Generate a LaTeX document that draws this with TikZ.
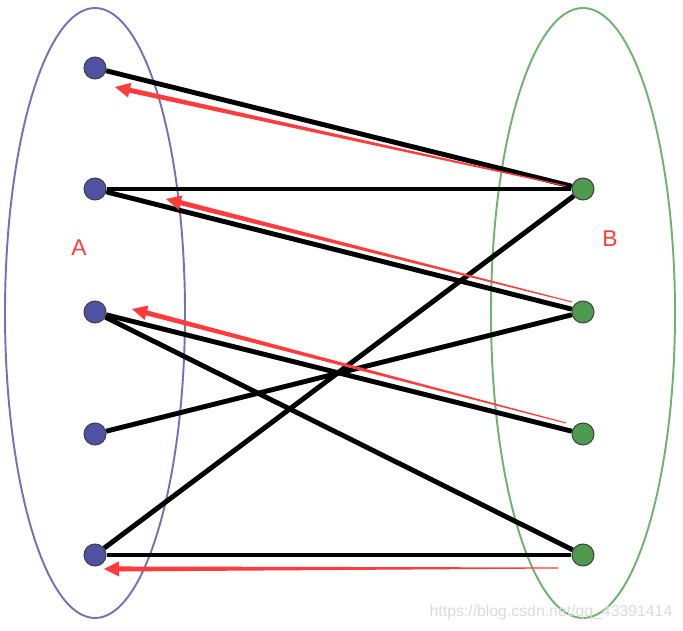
\documentclass[tikz,border=0pt]{standalone}
\usepackage{fontspec}
\setsansfont{Liberation Sans}
\usetikzlibrary{calc}

\definecolor{setAline}{HTML}{7272B9}
\definecolor{setAfill}{HTML}{4F52A3}
\definecolor{setBline}{HTML}{6DB36D}
\definecolor{setBfill}{HTML}{4E9A4E}
\definecolor{arrowred}{HTML}{FF3B3B}
\definecolor{wmgray}{HTML}{DADADA}

\tikzset{
  vertA/.style={circle,draw=black!75,line width=0.6pt,fill=setAfill,minimum size=0.44cm,inner sep=0pt},
  vertB/.style={circle,draw=black!75,line width=0.6pt,fill=setBfill,minimum size=0.44cm,inner sep=0pt},
  edge/.style={draw=black,line width=2.8pt},
  setlabel/.style={text=arrowred,font=\sffamily\fontsize{13pt}{15pt}\selectfont}
}

% tapered red arrow: #1 tail, #2 tip
\newcommand\taperarrow[2]{%
  \coordinate (bh) at ($(#2)!0.3cm!(#1)$);
  \fill[arrowred] ($(#1)!0.3pt!90:(#2)$) -- ($(bh)!0.05cm!-90:(#1)$)
    -- ($(bh)!0.15cm!-90:(#1)$) -- (#2) -- ($(bh)!0.15cm!90:(#1)$)
    -- ($(bh)!0.05cm!90:(#1)$) -- ($(#1)!0.3pt!-90:(#2)$) -- cycle;
}

\begin{document}
\begin{tikzpicture}[x=0.02cm,y=-0.02cm]
  \useasboundingbox (0,0) rectangle (683,631);
  % the two sets
  \draw[setAline,line width=1.1pt] (95,313) ellipse (90 and 305);
  \draw[setBline,line width=1.1pt] (583,313) ellipse (92 and 305);
  \node[setlabel] (lblA) at (79,248) {A};
  \node[setlabel] (lblB) at (610,239) {B};

  \node[vertA] (a1) at (95,68) {};
  \node[vertA] (a2) at (95,189) {};
  \node[vertA] (a3) at (95,312) {};
  \node[vertA] (a4) at (95,434) {};
  \node[vertA] (a5) at (95,555) {};
  \node[vertB] (b1) at (583,189) {};
  \node[vertB] (b2) at (583,312) {};
  \node[vertB] (b3) at (583,434) {};
  \node[vertB] (b4) at (583,555) {};

  \draw[edge] (a1) -- (b1);
  \draw[edge] (a2) -- (b1);
  \draw[edge] (a2) -- (b2);
  \draw[edge] (a3) -- (b3);
  \draw[edge] (a3) -- (b4);
  \draw[edge] (a4) -- (b2);
  \draw[edge] (a5) -- (b1);
  \draw[edge] (a5) -- (b4);

  % augmenting path arrows
  \coordinate (t1) at (566,186);
  \coordinate (h1) at (115,87);
  \coordinate (t2) at (572,302);
  \coordinate (h2) at (166,199);
  \coordinate (t3) at (566,423);
  \coordinate (h3) at (132,309);
  \coordinate (t4) at (558,568);
  \coordinate (h4) at (104,569);
  \taperarrow{t1}{h1}
  \taperarrow{t2}{h2}
  \taperarrow{t3}{h3}
  \taperarrow{t4}{h4}

  \node[text=wmgray,font=\sffamily\fontsize{9pt}{10pt}\selectfont] (wm) at (551,612) {https://blog.csdn.net/qq\_43391414};
\end{tikzpicture}
\end{document}
